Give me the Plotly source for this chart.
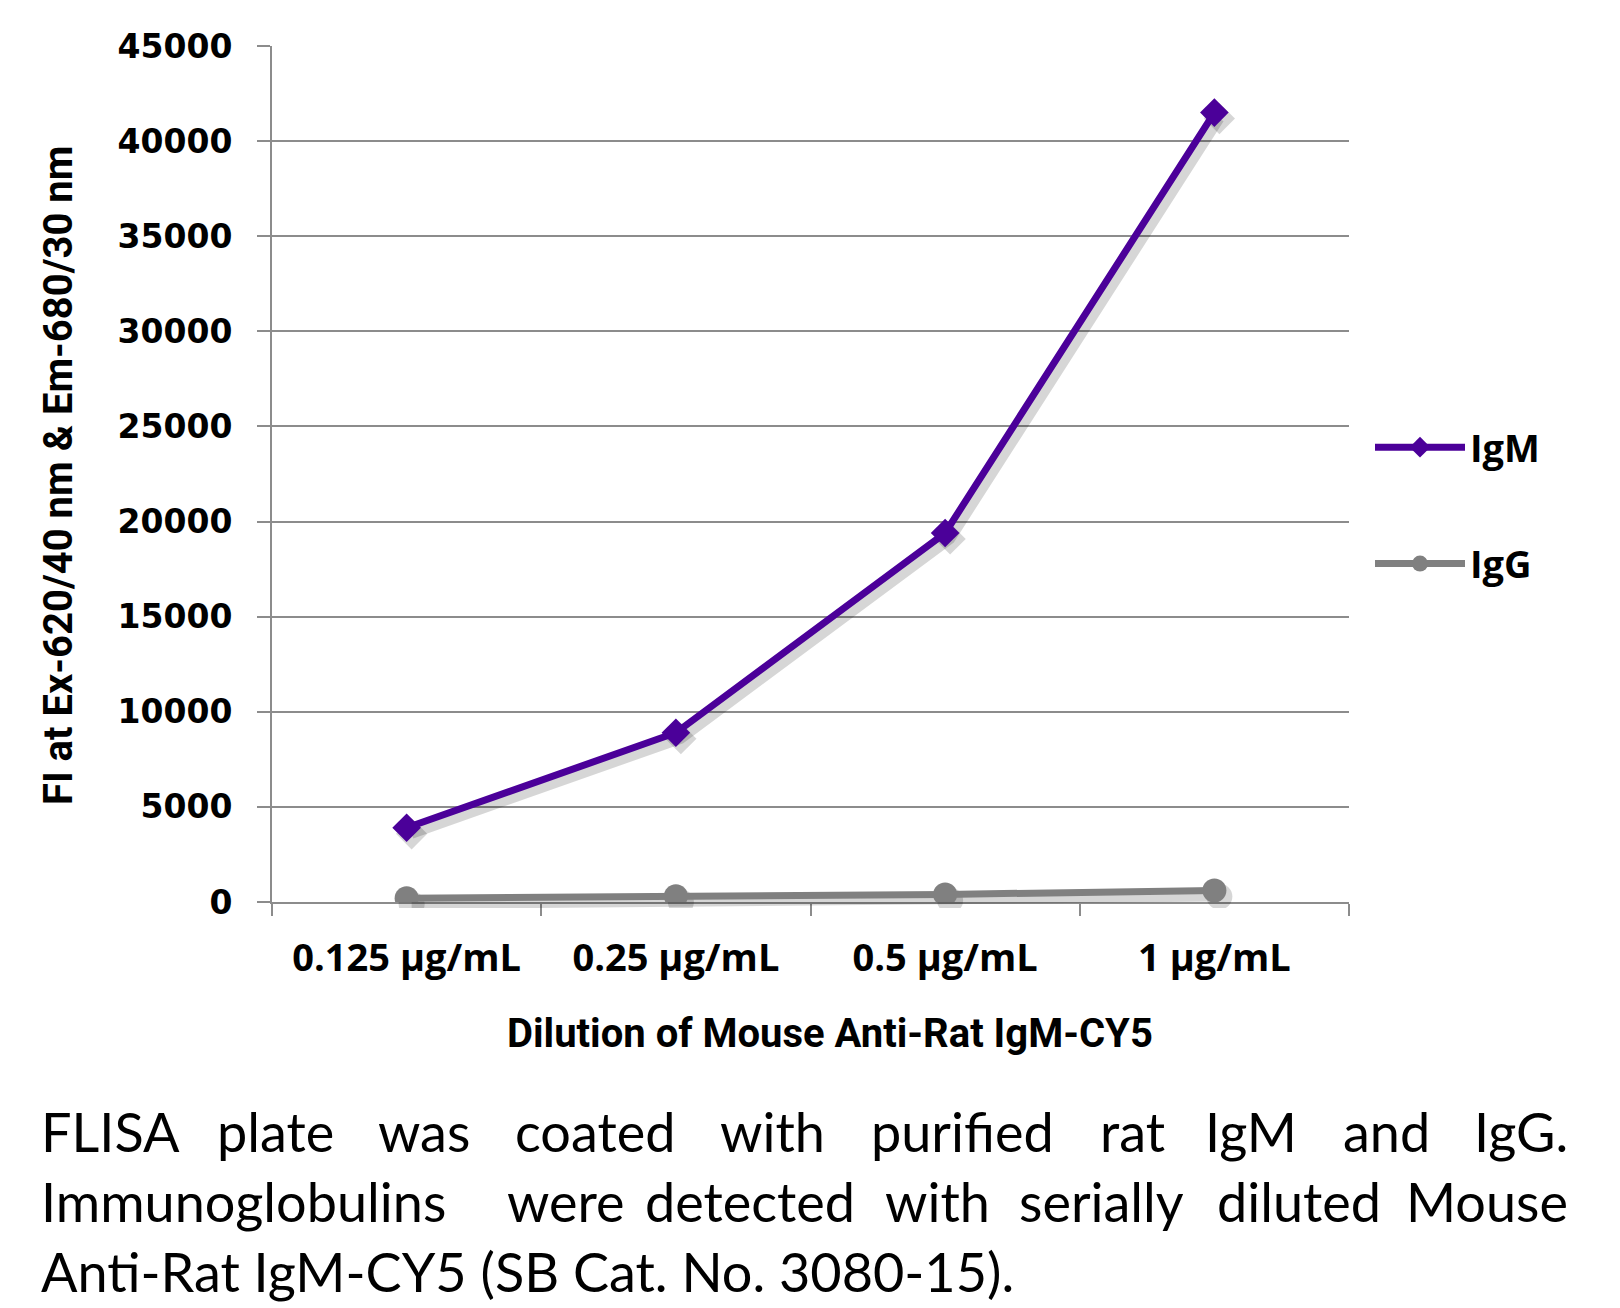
import plotly.graph_objects as go

# ---------------- data ----------------
categories = ["0.125 µg/mL", "0.25 µg/mL", "0.5 µg/mL", "1 µg/mL"]
igm_values = [3900, 8900, 19400, 41500]
igg_values = [200, 300, 400, 600]
series_names = ["IgM", "IgG"]
y_tick_values = [0, 5000, 10000, 15000, 20000, 25000, 30000, 35000, 40000, 45000]

x_title = "Dilution of Mouse Anti-Rat IgM-CY5"
y_title = "FI at Ex-620/40 nm &amp; Em-680/30 nm"
caption_line1 = ["FLISA", "plate", "was", "coated", "with", "purified", "rat", "IgM", "and", "IgG."]
caption_line2 = ["Immunoglobulins", "were", "detected", "with", "serially", "diluted", "Mouse"]
caption_line3 = "Anti-Rat IgM-CY5 (SB Cat. No. 3080-15)."

# ---------------- layout geometry (pixels) ----------------
W, H = 1620, 1308
ML, MR, MT, MB = 272, 266, 46, 400
PW, PH = W - ML - MR, H - MT - MB
SHX, SHY = 5, 6  # shadow offset

def px(x):
    return (x - ML) / PW

def py(y):
    return (H - MB - y) / PH

main_xdom = [0, (PW - SHX) / PW]
main_ydom = [SHY / PH, 1]
sh_xdom = [SHX / PW, 1]
sh_ydom = [0, (PH - SHY) / PH]

GRID = "#8c8c8c"
IGM_COLOR = "#4b0099"
IGG_COLOR = "#808080"
SHADOW = "rgba(0,0,0,0.16)"

fig = go.Figure()

# invisible trace to establish categories on the base axes
fig.add_trace(go.Scatter(x=categories, y=igm_values, mode="markers",
                         marker=dict(opacity=0), hoverinfo="skip",
                         showlegend=False, xaxis="x", yaxis="y"))

# shadows
for vals, sym, sz in [(igm_values, "diamond", 24), (igg_values, "circle", 26)]:
    fig.add_trace(go.Scatter(x=categories, y=vals, mode="lines+markers",
                             line=dict(color=SHADOW, width=10),
                             marker=dict(symbol=sym, size=sz, color=SHADOW),
                             hoverinfo="skip", showlegend=False,
                             xaxis="x2", yaxis="y2"))

# real series
fig.add_trace(go.Scatter(x=categories, y=igm_values, name=series_names[0],
                         mode="lines+markers", legendgroup="a",
                         line=dict(color=IGM_COLOR, width=7),
                         marker=dict(symbol="diamond", size=22, color=IGM_COLOR),
                         xaxis="x3", yaxis="y3"))
fig.add_trace(go.Scatter(x=categories, y=igg_values, name=series_names[1],
                         mode="lines+markers", legendgroup="b",
                         line=dict(color=IGG_COLOR, width=7),
                         marker=dict(symbol="circle", size=24, color=IGG_COLOR),
                         xaxis="x3", yaxis="y3"))

xr = [-0.5, len(categories) - 0.5]
yr = [0, 45000]

hidden_x = dict(type="category", categoryorder="array", categoryarray=categories,
                range=xr, visible=False, fixedrange=True)
hidden_y = dict(range=yr, visible=False, fixedrange=True)

fig.update_layout(
    width=W, height=H,
    margin=dict(l=ML, r=MR, t=MT, b=MB, autoexpand=False),
    paper_bgcolor="white", plot_bgcolor="rgba(0,0,0,0)",
    xaxis=dict(domain=main_xdom, anchor="y", type="category",
               categoryorder="array", categoryarray=categories, range=xr,
               showgrid=False, showline=True, linecolor=GRID, linewidth=2,
               ticks="outside", tickson="boundaries", ticklen=12,
               tickcolor=GRID, tickwidth=2, ticklabelstandoff=21,
               tickfont=dict(family="Open Sans", size=38, color="black", weight="bold"),
               zeroline=False, automargin=False),
    yaxis=dict(domain=main_ydom, anchor="x", range=yr, tickvals=y_tick_values,
               tickformat="d", showgrid=True, gridcolor=GRID, gridwidth=2,
               showline=True, linecolor=GRID, linewidth=2,
               ticks="outside", ticklen=13, tickcolor=GRID, tickwidth=2,
               ticklabelstandoff=18, zeroline=False, automargin=False,
               tickfont=dict(family="DejaVu Sans", size=33, color="black", weight="bold")),
    xaxis2=dict(domain=sh_xdom, anchor="y2", **hidden_x),
    yaxis2=dict(domain=sh_ydom, anchor="x2", **hidden_y),
    xaxis3=dict(domain=main_xdom, anchor="y3", **hidden_x),
    yaxis3=dict(domain=main_ydom, anchor="x3", **hidden_y),
    legend=dict(x=px(1370), y=py(416), xanchor="left", yanchor="top",
                traceorder="grouped", tracegroupgap=64, itemwidth=90,
                font=dict(family="Open Sans", size=38, color="black", weight="bold"),
                bgcolor="rgba(0,0,0,0)"),
    showlegend=True,
)

annotations = []
title_font = dict(family="Roboto", size=40, color="black", weight="bold")
annotations.append(dict(text=x_title, x=px(830), y=py(1033), xref="paper", yref="paper",
                        xanchor="center", yanchor="middle", showarrow=False, font=title_font))
annotations.append(dict(text=y_title, x=px(58), y=py(476), xref="paper", yref="paper",
                        xanchor="center", yanchor="middle", showarrow=False, textangle=-90,
                        font=title_font))

cap_font = dict(family="Lato", size=54, color="black")
# word centers (px) for the justified lines
line1_x = [39, 275, 424, 595, 772, 962, 1132, 1251, 1386, 1570]
line2_x = [39, 566, 750, 937, 1101, 1299, 1570]
for words, xs, yline in [(caption_line1, line1_x, 1131), (caption_line2, line2_x, 1201)]:
    for i, (w, xpix) in enumerate(zip(words, xs)):
        anchor = "left" if i == 0 else ("right" if i == len(words) - 1 else "center")
        annotations.append(dict(text=w, x=px(xpix), y=py(yline), xref="paper", yref="paper",
                                xanchor=anchor, yanchor="middle", showarrow=False, font=cap_font))
annotations.append(dict(text=caption_line3, x=px(39), y=py(1271), xref="paper", yref="paper",
                        xanchor="left", yanchor="middle", showarrow=False, font=cap_font))

fig.update_layout(annotations=annotations)

fig.write_html("out.html", config={"displayModeBar": False},
               post_script="document.body.style.margin='0px';document.body.style.overflow='hidden';")
